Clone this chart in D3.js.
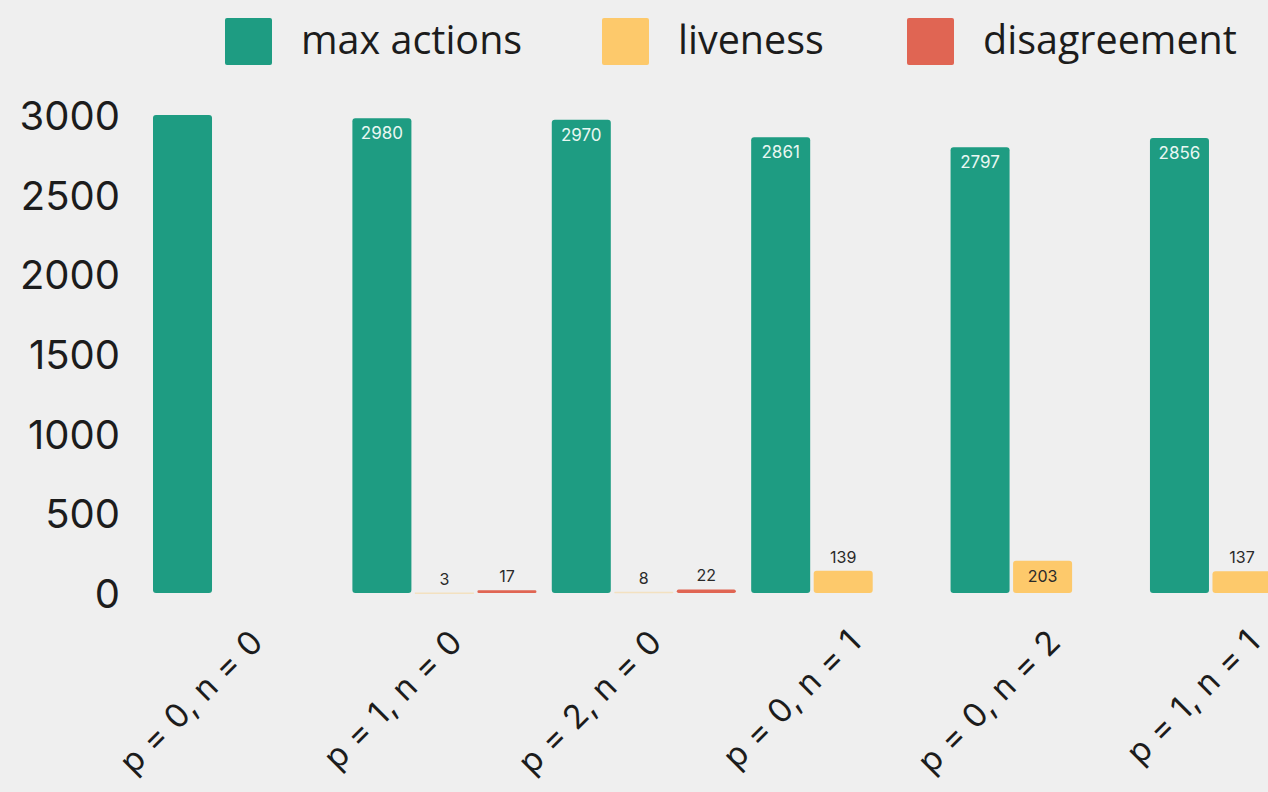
<!DOCTYPE html>
<html>
<head>
<meta charset="utf-8">
<script src="https://cdn.jsdelivr.net/npm/d3@7"></script>
<style>
  html, body { margin: 0; padding: 0; background: #efefef; }
  svg { display: block; }
</style>
</head>
<body>
<svg id="chart" width="1268" height="792"></svg>
<script>
const categories = ["p = 0, n = 0", "p = 1, n = 0", "p = 2, n = 0", "p = 0, n = 1", "p = 0, n = 2", "p = 1, n = 1"];
const seriesNames = ["max actions", "liveness", "disagreement"];
const maxActions = [3000, 2980, 2970, 2861, 2797, 2856];
const liveness = [0, 3, 8, 139, 203, 137];
const disagreement = [0, 17, 22, 0, 0, 0];
const showLabel = [false, true, true, true, true, true];
const yTicks = [0, 500, 1000, 1500, 2000, 2500, 3000];
const colors = ["#1e9c82", "#fdc96b", "#e06553"];

const svg = d3.select("#chart");
const W = 1268, H = 792;
svg.append("rect").attr("width", W).attr("height", H).attr("fill", "#efefef");

const y = d3.scaleLinear().domain([0, 3000]).range([593, 115]);
const x0 = d3.scaleBand().domain(categories).range([153, 1334]).paddingInner(0.077).paddingOuter(0);
const x1 = d3.scaleBand().domain(seriesNames).range([0, x0.bandwidth()]).paddingInner(0.056);

const series = [maxActions, liveness, disagreement];
const rows = categories.map((c, i) => ({
  cat: c, i,
  vals: seriesNames.map((s, k) => ({ s, k, v: series[k][i], show: showLabel[i] || k > 0 }))
}));

// y axis
const yAxis = d3.axisLeft(y).tickValues(yTicks).tickFormat(d3.format("d")).tickSize(0).tickPadding(0);
const gy = svg.append("g").attr("transform", "translate(120,0)").call(yAxis);
gy.select(".domain").remove();
gy.selectAll("text")
  .attr("font-family", "Inter, 'DejaVu Sans', sans-serif")
  .attr("font-size", 40)
  .attr("fill", "#1c1c1c")
  .attr("dy", "0.36em");

// bars
const groups = svg.append("g").selectAll("g").data(rows).join("g")
  .attr("transform", d => `translate(${x0(d.cat)},0)`);

groups.selectAll("rect").data(d => d.vals.filter(v => v.v > 0)).join("rect")
  .attr("x", d => x1(d.s))
  .attr("width", x1.bandwidth())
  .attr("y", d => y(d.v))
  .attr("height", d => Math.max(y(0) - y(d.v), 1.5))
  .attr("rx", d => Math.min(3, (y(0) - y(d.v)) / 2))
  .attr("fill", d => colors[d.k])
  .attr("opacity", d => (d.k === 1 && d.v < 20) ? 0.35 : 1);

groups.selectAll("text").data(d => d.vals.filter(v => v.v > 0 && v.show)).join("text")
  .attr("x", d => x1(d.s) + x1.bandwidth() / 2)
  .attr("y", d => {
    const h = y(0) - y(d.v);
    return h > 25 ? y(d.v) + 21 : y(d.v) - 8;
  })
  .attr("text-anchor", "middle")
  .attr("font-family", "Inter, 'DejaVu Sans', sans-serif")
  .attr("font-size", d => d.k === 0 ? 17 : 16)
  .attr("fill", d => {
    const h = y(0) - y(d.v);
    return (d.k === 0 && h > 25) ? "#e9f7f2" : "#2a2a2a";
  })
  .text(d => d.v);

// x labels
const xl = svg.append("g");
xl.selectAll("text").data(categories).join("text")
  .attr("transform", d => `translate(${x0(d) + x0.bandwidth() / 2 + 20},${644}) rotate(-45)`)
  .attr("text-anchor", "end")
  .attr("font-family", "Inter, 'DejaVu Sans', sans-serif")
  .attr("font-size", 33)
  .attr("letter-spacing", 0.5)
  .attr("fill", "#1c1c1c")
  .text(d => d);

// legend
const legendX = [225, 602, 907];
const lg = svg.append("g").selectAll("g").data(seriesNames).join("g")
  .attr("transform", (d, i) => `translate(${legendX[i]},18)`);
lg.append("rect").attr("width", 47).attr("height", 47).attr("rx", 2)
  .attr("fill", (d, i) => colors[i]);
lg.append("text").attr("x", 76).attr("y", 36)
  .attr("font-family", "'Open Sans', sans-serif")
  .attr("font-size", 39.5)
  .attr("fill", "#1c1c1c")
  .text(d => d);
</script>
</body>
</html>
